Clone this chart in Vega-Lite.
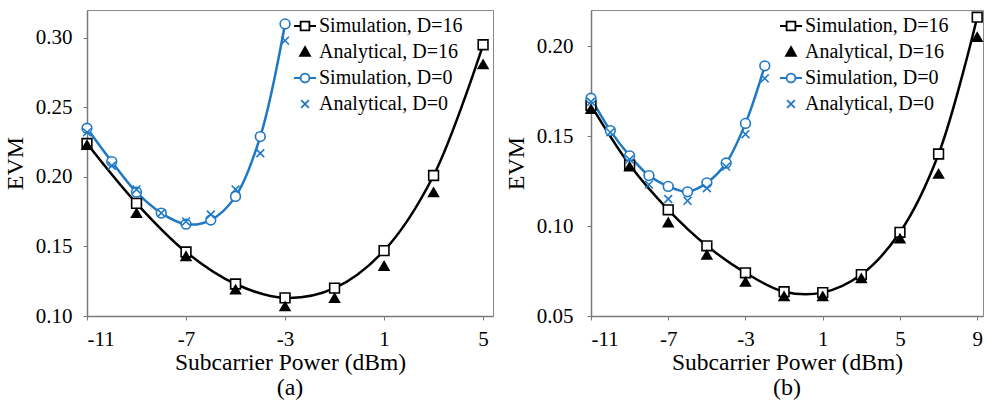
{
  "$schema": "https://vega.github.io/schema/vega-lite/v6.json",
  "padding": {"left": 2, "top": 8, "right": 2, "bottom": 0},
  "background": "white",
  "config": {
    "font": "Liberation Serif",
    "view": {"stroke": "#8a8a8a", "strokeWidth": 1},
    "axis": {
      "grid": false,
      "domainColor": "#7a7a7a",
      "domainWidth": 1.5,
      "tickColor": "#7a7a7a",
      "tickSize": 4,
      "tickWidth": 1,
      "labelFont": "Liberation Serif",
      "labelFontSize": 21,
      "labelColor": "black",
      "titleFont": "Liberation Serif",
      "titleFontSize": 24,
      "titleFontWeight": "normal",
      "titleColor": "black"
    },
    "legend": {"labelFont": "Liberation Serif", "labelFontSize": 20, "labelColor": "black"},
    "title": {"font": "Liberation Serif", "fontSize": 24, "fontWeight": "normal", "color": "black"}
  },
  "data": {"values": [
    {"panel": "a", "series": "Simulation, D=16", "power": -11, "evm": 0.224},
    {"panel": "a", "series": "Simulation, D=16", "power": -9, "evm": 0.181},
    {"panel": "a", "series": "Simulation, D=16", "power": -7, "evm": 0.146},
    {"panel": "a", "series": "Simulation, D=16", "power": -5, "evm": 0.123},
    {"panel": "a", "series": "Simulation, D=16", "power": -3, "evm": 0.113},
    {"panel": "a", "series": "Simulation, D=16", "power": -1, "evm": 0.120},
    {"panel": "a", "series": "Simulation, D=16", "power": 1, "evm": 0.147},
    {"panel": "a", "series": "Simulation, D=16", "power": 3, "evm": 0.201},
    {"panel": "a", "series": "Simulation, D=16", "power": 5, "evm": 0.295},
    {"panel": "a", "series": "Simulation, D=0", "power": -11, "evm": 0.235},
    {"panel": "a", "series": "Simulation, D=0", "power": -10, "evm": 0.211},
    {"panel": "a", "series": "Simulation, D=0", "power": -9, "evm": 0.189},
    {"panel": "a", "series": "Simulation, D=0", "power": -8, "evm": 0.174},
    {"panel": "a", "series": "Simulation, D=0", "power": -7, "evm": 0.166},
    {"panel": "a", "series": "Simulation, D=0", "power": -6, "evm": 0.169},
    {"panel": "a", "series": "Simulation, D=0", "power": -5, "evm": 0.186},
    {"panel": "a", "series": "Simulation, D=0", "power": -4, "evm": 0.229},
    {"panel": "a", "series": "Simulation, D=0", "power": -3, "evm": 0.310},
    {"panel": "a", "series": "Analytical, D=16", "power": -11, "evm": 0.223},
    {"panel": "a", "series": "Analytical, D=16", "power": -9, "evm": 0.174},
    {"panel": "a", "series": "Analytical, D=16", "power": -7, "evm": 0.143},
    {"panel": "a", "series": "Analytical, D=16", "power": -5, "evm": 0.119},
    {"panel": "a", "series": "Analytical, D=16", "power": -3, "evm": 0.107},
    {"panel": "a", "series": "Analytical, D=16", "power": -1, "evm": 0.113},
    {"panel": "a", "series": "Analytical, D=16", "power": 1, "evm": 0.136},
    {"panel": "a", "series": "Analytical, D=16", "power": 3, "evm": 0.189},
    {"panel": "a", "series": "Analytical, D=16", "power": 5, "evm": 0.281},
    {"panel": "a", "series": "Analytical, D=0", "power": -11, "evm": 0.232},
    {"panel": "a", "series": "Analytical, D=0", "power": -10, "evm": 0.208},
    {"panel": "a", "series": "Analytical, D=0", "power": -9, "evm": 0.191},
    {"panel": "a", "series": "Analytical, D=0", "power": -8, "evm": 0.174},
    {"panel": "a", "series": "Analytical, D=0", "power": -7, "evm": 0.168},
    {"panel": "a", "series": "Analytical, D=0", "power": -6, "evm": 0.173},
    {"panel": "a", "series": "Analytical, D=0", "power": -5, "evm": 0.191},
    {"panel": "a", "series": "Analytical, D=0", "power": -4, "evm": 0.217},
    {"panel": "a", "series": "Analytical, D=0", "power": -3, "evm": 0.298},
    {"panel": "b", "series": "Simulation, D=16", "power": -11, "evm": 0.167},
    {"panel": "b", "series": "Simulation, D=16", "power": -9, "evm": 0.134},
    {"panel": "b", "series": "Simulation, D=16", "power": -7, "evm": 0.109},
    {"panel": "b", "series": "Simulation, D=16", "power": -5, "evm": 0.089},
    {"panel": "b", "series": "Simulation, D=16", "power": -3, "evm": 0.074},
    {"panel": "b", "series": "Simulation, D=16", "power": -1, "evm": 0.0635},
    {"panel": "b", "series": "Simulation, D=16", "power": 1, "evm": 0.063},
    {"panel": "b", "series": "Simulation, D=16", "power": 3, "evm": 0.073},
    {"panel": "b", "series": "Simulation, D=16", "power": 5, "evm": 0.0965},
    {"panel": "b", "series": "Simulation, D=16", "power": 7, "evm": 0.140},
    {"panel": "b", "series": "Simulation, D=16", "power": 9, "evm": 0.216},
    {"panel": "b", "series": "Simulation, D=0", "power": -11, "evm": 0.171},
    {"panel": "b", "series": "Simulation, D=0", "power": -10, "evm": 0.153},
    {"panel": "b", "series": "Simulation, D=0", "power": -9, "evm": 0.139},
    {"panel": "b", "series": "Simulation, D=0", "power": -8, "evm": 0.128},
    {"panel": "b", "series": "Simulation, D=0", "power": -7, "evm": 0.122},
    {"panel": "b", "series": "Simulation, D=0", "power": -6, "evm": 0.119},
    {"panel": "b", "series": "Simulation, D=0", "power": -5, "evm": 0.124},
    {"panel": "b", "series": "Simulation, D=0", "power": -4, "evm": 0.135},
    {"panel": "b", "series": "Simulation, D=0", "power": -3, "evm": 0.157},
    {"panel": "b", "series": "Simulation, D=0", "power": -2, "evm": 0.189},
    {"panel": "b", "series": "Analytical, D=16", "power": -11, "evm": 0.165},
    {"panel": "b", "series": "Analytical, D=16", "power": -9, "evm": 0.133},
    {"panel": "b", "series": "Analytical, D=16", "power": -7, "evm": 0.102},
    {"panel": "b", "series": "Analytical, D=16", "power": -5, "evm": 0.084},
    {"panel": "b", "series": "Analytical, D=16", "power": -3, "evm": 0.069},
    {"panel": "b", "series": "Analytical, D=16", "power": -1, "evm": 0.061},
    {"panel": "b", "series": "Analytical, D=16", "power": 1, "evm": 0.061},
    {"panel": "b", "series": "Analytical, D=16", "power": 3, "evm": 0.071},
    {"panel": "b", "series": "Analytical, D=16", "power": 5, "evm": 0.093},
    {"panel": "b", "series": "Analytical, D=16", "power": 7, "evm": 0.129},
    {"panel": "b", "series": "Analytical, D=16", "power": 9, "evm": 0.205},
    {"panel": "b", "series": "Analytical, D=0", "power": -11, "evm": 0.169},
    {"panel": "b", "series": "Analytical, D=0", "power": -10, "evm": 0.152},
    {"panel": "b", "series": "Analytical, D=0", "power": -9, "evm": 0.137},
    {"panel": "b", "series": "Analytical, D=0", "power": -8, "evm": 0.123},
    {"panel": "b", "series": "Analytical, D=0", "power": -7, "evm": 0.115},
    {"panel": "b", "series": "Analytical, D=0", "power": -6, "evm": 0.114},
    {"panel": "b", "series": "Analytical, D=0", "power": -5, "evm": 0.121},
    {"panel": "b", "series": "Analytical, D=0", "power": -4, "evm": 0.133},
    {"panel": "b", "series": "Analytical, D=0", "power": -3, "evm": 0.151},
    {"panel": "b", "series": "Analytical, D=0", "power": -2, "evm": 0.182}
  ]},
  "spacing": 9,
  "resolve": {
    "scale": {"x": "independent", "y": "independent", "shape": "independent", "stroke": "independent", "fill": "independent"},
    "legend": {"shape": "independent", "stroke": "independent", "fill": "independent"}
  },
  "hconcat": [
    {
      "width": 406,
      "height": 306,
      "transform": [{"filter": "datum.panel === 'a'"}],
      "title": {"text": "(a)", "orient": "bottom", "offset": 2, "font": "Liberation Serif", "fontSize": 24, "fontWeight": "normal"},
      "encoding": {
        "x": {"field": "power", "type": "quantitative", "title": "Subcarrier Power (dBm)",
              "scale": {"domain": [-11, 5.4], "nice": false, "zero": false},
              "axis": {"values": [-11, -7, -3, 1, 5], "labelPadding": 8, "titlePadding": 1, "titleFontSize": 23.5,
                       "labelExpr": "datum.value < 0 ? '-' + abs(datum.value) : '' + datum.value"}},
        "y": {"field": "evm", "type": "quantitative", "title": "EVM",
              "scale": {"domain": [0.10, 0.32], "nice": false, "zero": false},
              "axis": {"values": [0.10, 0.15, 0.20, 0.25, 0.30], "format": ".2f", "labelPadding": 11, "titlePadding": 8}}
      },
      "resolve": {
        "scale": {"shape": "independent", "stroke": "independent", "fill": "independent"},
        "legend": {"shape": "independent", "stroke": "independent", "fill": "independent"}
      },
      "layer": [
        {"transform": [{"filter": "datum.series === 'Simulation, D=16'"}],
         "mark": {"type": "line", "interpolate": "catmull-rom", "color": "black", "strokeWidth": 2.5}},
        {"transform": [{"filter": "datum.series === 'Simulation, D=0'"}],
         "mark": {"type": "line", "interpolate": "catmull-rom", "color": "#1f78c4", "strokeWidth": 2.5}},
        {"mark": {"type": "point", "size": 95, "strokeWidth": 1.6, "opacity": 1},
         "encoding": {
           "shape": {"field": "series", "type": "nominal", "legend": null,
             "scale": {"domain": ["Simulation, D=16", "Analytical, D=16", "Simulation, D=0", "Analytical, D=0"],
                       "range": ["square", "triangle-up", "circle", "M-0.8,-0.8L0.8,0.8M-0.8,0.8L0.8,-0.8"]}},
           "stroke": {"field": "series", "type": "nominal", "legend": null,
             "scale": {"domain": ["Simulation, D=16", "Analytical, D=16", "Simulation, D=0", "Analytical, D=0"],
                       "range": ["black", "black", "#1f78c4", "#1f78c4"]}},
           "fill": {"field": "series", "type": "nominal", "legend": null,
             "scale": {"domain": ["Simulation, D=16", "Analytical, D=16", "Simulation, D=0", "Analytical, D=0"],
                       "range": ["white", "black", "white", "transparent"]}}
         }},
        {"mark": {"type": "point", "size": 10, "strokeWidth": 1.8, "opacity": 0},
         "encoding": {
           "shape": {"field": "series", "type": "nominal",
             "scale": {"domain": ["Simulation, D=16", "Analytical, D=16", "Simulation, D=0", "Analytical, D=0"],
                       "range": ["M-1,0H-0.4M0.4,0H1M-0.4,-0.4H0.4V0.4H-0.4Z", "M0,-0.45L0.45,0.35H-0.45Z", "M-1,0H-0.4M0.4,0H1M0.4,0A0.4,0.4,0,1,1,-0.4,0A0.4,0.4,0,1,1,0.4,0Z", "M-0.35,-0.35L0.35,0.35M-0.35,0.35L0.35,-0.35"]},
             "legend": {"title": null, "orient": "none", "legendX": 206, "legendY": 4,
               "labelFont": "Liberation Serif", "labelFontSize": 20, "labelColor": "black", "labelOffset": 2,
               "symbolSize": 484, "symbolStrokeWidth": 1.8, "symbolOpacity": 1, "rowPadding": 4}},
           "stroke": {"field": "series", "type": "nominal",
             "scale": {"domain": ["Simulation, D=16", "Analytical, D=16", "Simulation, D=0", "Analytical, D=0"],
                       "range": ["black", "black", "#1f78c4", "#1f78c4"]}},
           "fill": {"field": "series", "type": "nominal",
             "scale": {"domain": ["Simulation, D=16", "Analytical, D=16", "Simulation, D=0", "Analytical, D=0"],
                       "range": ["white", "black", "white", "transparent"]}}
         }}
      ]
    },
    {
      "width": 392,
      "height": 306,
      "transform": [{"filter": "datum.panel === 'b'"}],
      "title": {"text": "(b)", "orient": "bottom", "offset": 2, "font": "Liberation Serif", "fontSize": 24, "fontWeight": "normal"},
      "encoding": {
        "x": {"field": "power", "type": "quantitative", "title": "Subcarrier Power (dBm)",
              "scale": {"domain": [-11, 9.3], "nice": false, "zero": false},
              "axis": {"values": [-11, -7, -3, 1, 5, 9], "labelPadding": 8, "titlePadding": 1, "titleFontSize": 23.5,
                       "labelExpr": "datum.value < 0 ? '-' + abs(datum.value) : '' + datum.value"}},
        "y": {"field": "evm", "type": "quantitative", "title": "EVM",
              "scale": {"domain": [0.05, 0.22], "nice": false, "zero": false},
              "axis": {"values": [0.05, 0.10, 0.15, 0.20], "format": ".2f", "labelPadding": 14, "titlePadding": 8}}
      },
      "resolve": {
        "scale": {"shape": "independent", "stroke": "independent", "fill": "independent"},
        "legend": {"shape": "independent", "stroke": "independent", "fill": "independent"}
      },
      "layer": [
        {"transform": [{"filter": "datum.series === 'Simulation, D=16'"}],
         "mark": {"type": "line", "interpolate": "catmull-rom", "color": "black", "strokeWidth": 2.5}},
        {"transform": [{"filter": "datum.series === 'Simulation, D=0'"}],
         "mark": {"type": "line", "interpolate": "catmull-rom", "color": "#1f78c4", "strokeWidth": 2.5}},
        {"mark": {"type": "point", "size": 95, "strokeWidth": 1.6, "opacity": 1},
         "encoding": {
           "shape": {"field": "series", "type": "nominal", "legend": null,
             "scale": {"domain": ["Simulation, D=16", "Analytical, D=16", "Simulation, D=0", "Analytical, D=0"],
                       "range": ["square", "triangle-up", "circle", "M-0.8,-0.8L0.8,0.8M-0.8,0.8L0.8,-0.8"]}},
           "stroke": {"field": "series", "type": "nominal", "legend": null,
             "scale": {"domain": ["Simulation, D=16", "Analytical, D=16", "Simulation, D=0", "Analytical, D=0"],
                       "range": ["black", "black", "#1f78c4", "#1f78c4"]}},
           "fill": {"field": "series", "type": "nominal", "legend": null,
             "scale": {"domain": ["Simulation, D=16", "Analytical, D=16", "Simulation, D=0", "Analytical, D=0"],
                       "range": ["white", "black", "white", "transparent"]}}
         }},
        {"mark": {"type": "point", "size": 10, "strokeWidth": 1.8, "opacity": 0},
         "encoding": {
           "shape": {"field": "series", "type": "nominal",
             "scale": {"domain": ["Simulation, D=16", "Analytical, D=16", "Simulation, D=0", "Analytical, D=0"],
                       "range": ["M-1,0H-0.4M0.4,0H1M-0.4,-0.4H0.4V0.4H-0.4Z", "M0,-0.45L0.45,0.35H-0.45Z", "M-1,0H-0.4M0.4,0H1M0.4,0A0.4,0.4,0,1,1,-0.4,0A0.4,0.4,0,1,1,0.4,0Z", "M-0.35,-0.35L0.35,0.35M-0.35,0.35L0.35,-0.35"]},
             "legend": {"title": null, "orient": "none", "legendX": 188, "legendY": 4,
               "labelFont": "Liberation Serif", "labelFontSize": 20, "labelColor": "black", "labelOffset": 2,
               "symbolSize": 484, "symbolStrokeWidth": 1.8, "symbolOpacity": 1, "rowPadding": 4}},
           "stroke": {"field": "series", "type": "nominal",
             "scale": {"domain": ["Simulation, D=16", "Analytical, D=16", "Simulation, D=0", "Analytical, D=0"],
                       "range": ["black", "black", "#1f78c4", "#1f78c4"]}},
           "fill": {"field": "series", "type": "nominal",
             "scale": {"domain": ["Simulation, D=16", "Analytical, D=16", "Simulation, D=0", "Analytical, D=0"],
                       "range": ["white", "black", "white", "transparent"]}}
         }}
      ]
    }
  ]
}
